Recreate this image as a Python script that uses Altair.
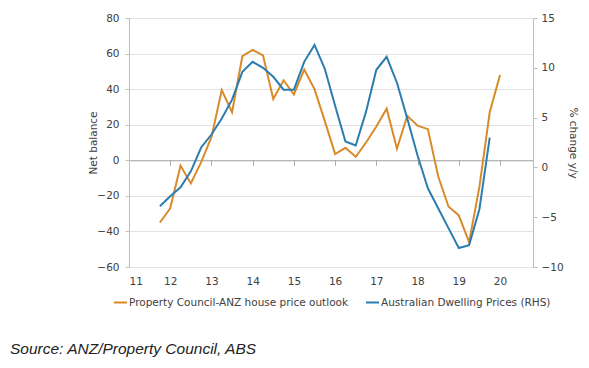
import altair as alt
import pandas as pd

# ---- data ----
quarters_outlook = [11.75, 12.0, 12.25, 12.5, 12.75, 13.0, 13.25, 13.5, 13.75, 14.0,
                    14.25, 14.5, 14.75, 15.0, 15.25, 15.5, 15.75, 16.0, 16.25, 16.5,
                    16.75, 17.0, 17.25, 17.5, 17.75, 18.0, 18.25, 18.5, 18.75, 19.0,
                    19.25, 19.5, 19.75, 20.0]
outlook = [-35, -27, -3, -13, -1, 13, 39.5, 27, 58.5, 62,
           59, 34.5, 45, 37, 51, 40, 22, 3.5, 7, 2,
           10, 19, 29, 6.5, 25, 19.5, 17.5, -9, -26, -31,
           -46, -15, 27, 48]

quarters_prices = [11.75, 12.0, 12.25, 12.5, 12.75, 13.0, 13.25, 13.5, 13.75, 14.0,
                   14.25, 14.5, 14.75, 15.0, 15.25, 15.5, 15.75, 16.0, 16.25, 16.5,
                   16.75, 17.0, 17.25, 17.5, 17.75, 18.0, 18.25, 18.5, 18.75, 19.0,
                   19.25, 19.5, 19.75]
prices = [-3.9, -2.9, -2.0, -0.4, 2.0, 3.3, 4.9, 6.8, 9.6, 10.6,
          10.0, 9.1, 7.8, 7.8, 10.6, 12.3, 9.9, 6.2, 2.6, 2.2,
          5.6, 9.8, 11.1, 8.5, 4.9, 1.2, -2.1, -4.1, -6.1, -8.1,
          -7.8, -4.2, 3.0]

year_ticks = [11, 12, 13, 14, 15, 16, 17, 18, 19, 20]
left_ticks = [80, 60, 40, 20, 0, -20, -40, -60]
right_ticks = [15, 10, 5, 0, -5, -10]

series_names = ["Property Council-ANZ house price outlook",
                "Australian Dwelling Prices (RHS)"]
series_colors = ["#D98A2A", "#2B7DB0"]
source_text = "Source: ANZ/Property Council, ABS"

df_o = pd.DataFrame({"q": quarters_outlook, "v": outlook, "s": series_names[0]})
df_b = pd.DataFrame({"q": quarters_prices, "v": prices, "s": series_names[1]})
df_src = pd.DataFrame({"t": [source_text]})

FONT = "DejaVu Sans"
TXT = "#404040"
W, H = 404, 249
ZERO_OFFSET = -(H - H * 80 / 140)  # puts the category axis line on the left-axis zero

xscale = alt.Scale(domain=[11, 20.8], nice=False, zero=False)
color = alt.Color(
    "s:N",
    scale=alt.Scale(domain=series_names, range=series_colors),
    legend=alt.Legend(
        orient="none", legendX=-16, legendY=277, direction="horizontal",
        title=None, symbolType="stroke", symbolSize=169, symbolStrokeWidth=2,
        labelFontSize=10.5, labelFont=FONT, labelColor=TXT, columnPadding=13,
        labelOffset=1, padding=0, labelLimit=0,
    ),
)

orange = alt.Chart(df_o).mark_line(strokeWidth=2).encode(
    x=alt.X("q:Q", scale=xscale,
            axis=alt.Axis(values=year_ticks, format="d", title=None, domain=False,
                          ticks=False, grid=False, labelPadding=9, orient="bottom",
                          labelFontSize=10.5, labelFont=FONT, labelColor=TXT)),
    y=alt.Y("v:Q", scale=alt.Scale(domain=[-60, 80], nice=False),
            axis=alt.Axis(values=left_ticks, title="Net balance", grid=True,
                          gridColor="#e2e2e2", domainColor="#bdbdbd", tickColor="#bdbdbd",
                          tickSize=4, labelPadding=6, titleX=-31, titleY=H / 2,
                          labelFontSize=10.5, labelFont=FONT, labelColor=TXT,
                          titleFontSize=10.5, titleFont=FONT, titleColor=TXT,
                          titleFontWeight="normal")),
    color=color,
)

blue = alt.Chart(df_b).mark_line(strokeWidth=2).encode(
    x=alt.X("q:Q", scale=xscale,
            axis=alt.Axis(values=year_ticks, title=None, labels=False, grid=False,
                          orient="bottom", offset=ZERO_OFFSET, domain=True,
                          domainColor="#a8a8a8", ticks=True, tickColor="#a8a8a8",
                          tickSize=5)),
    y=alt.Y("v:Q", scale=alt.Scale(domain=[-10, 15], nice=False),
            axis=alt.Axis(orient="right", values=right_ticks, title="% change y/y",
                          grid=False, domainColor="#bdbdbd", tickColor="#bdbdbd",
                          tickSize=4, labelPadding=4, titleX=34, titleY=H / 2,
                          labelFontSize=10.5, labelFont=FONT, labelColor=TXT,
                          titleFontSize=10.5, titleFont=FONT, titleColor=TXT,
                          titleFontWeight="normal")),
    color=color,
)

source = alt.Chart(df_src).mark_text(
    align="left", baseline="middle", font="Liberation Sans", fontStyle="italic",
    fontSize=15.5, color="#222222"
).encode(x=alt.value(-119), y=alt.value(331), text="t:N")

chart = alt.layer(orange, blue, source).resolve_scale(y="independent").resolve_axis(
    x="independent"
).properties(
    width=W, height=H,
    autosize="none",
    padding={"left": 121, "top": 10, "right": 48, "bottom": 93},
).configure_view(stroke=None).configure(background="white")

chart.save("out.html", embed_options={"renderer": "svg", "actions": False})
